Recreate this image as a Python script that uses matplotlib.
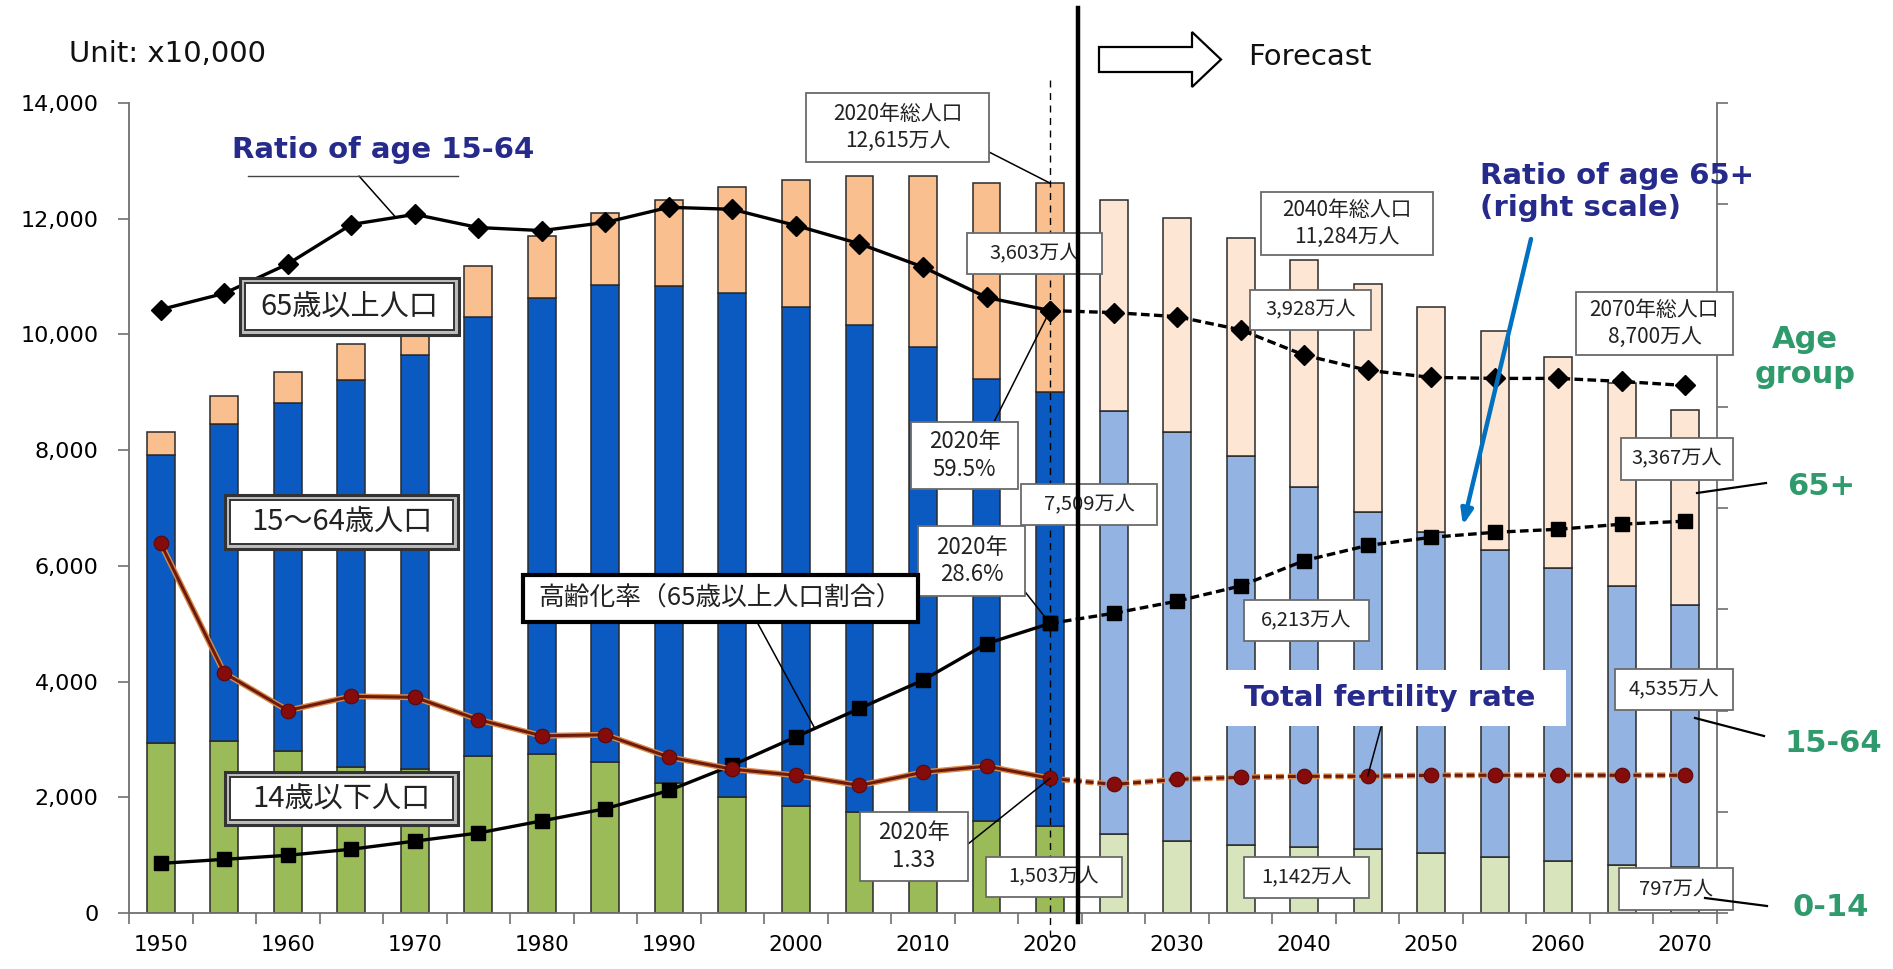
import numpy as np
import matplotlib.pyplot as plt
import matplotlib.patheffects as pe
from matplotlib.patches import Rectangle, Polygon
from matplotlib.lines import Line2D
from matplotlib import transforms

plt.rcParams['font.family'] = ['DejaVu Sans', 'Noto Sans CJK JP']
JP = ['Noto Sans CJK JP', 'DejaVu Sans']

# population (x10,000) by age group, 1950-2020 actual, 2025-2070 forecast
years = [1950, 1955, 1960, 1965, 1970, 1975, 1980, 1985, 1990, 1995, 2000, 2005,
         2010, 2015, 2020, 2025, 2030, 2035, 2040, 2045, 2050, 2055, 2060, 2065, 2070]
pop_0_14 = [2943, 2980, 2807, 2517, 2482, 2722, 2751, 2603, 2249, 2001, 1847, 1752,
            1680, 1595, 1503, 1363, 1240, 1169, 1142, 1103, 1041, 966, 893, 836, 797]
pop_15_64 = [4966, 5473, 6000, 6693, 7157, 7581, 7883, 8251, 8590, 8716, 8622, 8409,
             8103, 7629, 7509, 7310, 7076, 6722, 6213, 5832, 5540, 5307, 5078, 4809, 4535]
pop_65 = [411, 475, 535, 618, 733, 887, 1065, 1247, 1493, 1828, 2204, 2576,
          2948, 3387, 3603, 3653, 3696, 3773, 3928, 3945, 3888, 3778, 3644, 3513, 3367]
total = [8320, 8928, 9342, 9828, 10372, 11194, 11706, 12105, 12361, 12557, 12693, 12777,
         12806, 12709, 12615, 12326, 12012, 11664, 11284, 10880, 10469, 10051, 9615, 9159, 8700]
# ratios (%) on right scale, total fertility rate
ratio_15_64 = [59.6, 61.2, 64.1, 68.0, 69.0, 67.7, 67.4, 68.2, 69.7, 69.5, 67.9, 66.1,
               63.8, 60.8, 59.5, 59.3, 58.9, 57.6, 55.1, 53.6, 52.9, 52.8, 52.8, 52.5, 52.1]
ratio_65 = [4.9, 5.3, 5.7, 6.3, 7.1, 7.9, 9.1, 10.3, 12.1, 14.6, 17.4, 20.2,
            23.0, 26.6, 28.6, 29.6, 30.8, 32.3, 34.8, 36.3, 37.1, 37.6, 37.9, 38.4, 38.7]
tfr = [3.65, 2.37, 2.00, 2.14, 2.13, 1.91, 1.75, 1.76, 1.54, 1.42, 1.36, 1.26,
       1.39, 1.45, 1.33, 1.27, 1.32, 1.34, 1.35, 1.35, 1.36, 1.36, 1.36, 1.36, 1.36]
last_actual = 2020

W, H = 1893, 969
fig = plt.figure(figsize=(W / 100, H / 100), dpi=100)


def P(x, y):
    return (x / W, 1 - y / H)


ax = fig.add_axes([129 / W, 1 - 913 / H, (1717 - 129) / W, (913 - 103) / H])
x = np.arange(len(years))
k = years.index(last_actual)
actual = np.array(years) <= last_actual

c_old = ('#9BBB59', '#0B5AC2', '#F9BF8F')
c_new = ('#D8E4BC', '#93B4E2', '#FDE6D4')
bottom = np.zeros(len(years))
for j, vals in enumerate([pop_0_14, pop_15_64, pop_65]):
    cols = [c_old[j] if a else c_new[j] for a in actual]
    ax.bar(x, vals, bottom=bottom, width=0.44, color=cols, edgecolor='#2a2a2a', lw=1.1, zorder=2)
    bottom += np.array(vals)

ax.set_xlim(-0.5, len(years) - 0.5)
ax.set_ylim(0, 14000)
ax.set_yticks(range(0, 14001, 2000))
ax.set_yticklabels([f'{v:,}' for v in range(0, 14001, 2000)], fontsize=16)
ax.set_xticks(x[::2])
ax.set_xticklabels([str(y) for y in years[::2]], fontsize=15.5)
ax.set_xticks(np.arange(-0.5, len(years), 1), minor=True)
ax.tick_params(axis='x', which='major', length=0, pad=16)
ax.tick_params(axis='x', which='minor', length=8, width=1.2, color='#707070')
ax.tick_params(axis='y', length=8, width=1.2, color='#707070', pad=14)
for s in ['top', 'right']:
    ax.spines[s].set_visible(False)
for s in ['left', 'bottom']:
    ax.spines[s].set_color('#707070')
    ax.spines[s].set_linewidth(1.3)

ax2 = ax.twinx()
ax2.set_ylim(0, 80)
ax2.set_yticks(range(0, 81, 10))
ax2.set_yticklabels([])
ax2.tick_params(axis='y', length=8, width=1.2, color='#707070')
for s in ['top', 'left', 'bottom']:
    ax2.spines[s].set_visible(False)
ax2.spines['right'].set_color('#707070')
ax2.spines['right'].set_linewidth(1.3)

ax3 = ax.twinx()
ax3.set_ylim(0, 8)
ax3.axis('off')

dash = (0, (2.6, 1.3))
for axx, vals, mk, ms in [(ax2, ratio_15_64, 'D', 10), (ax2, ratio_65, 's', 10)]:
    axx.plot(x[:k + 1], vals[:k + 1], color='black', lw=2.4, marker=mk, ms=ms, zorder=4)
    axx.plot(x[k:], vals[k:], color='black', lw=2.4, ls=dash, marker=mk, ms=ms, zorder=4)

glow = [pe.Stroke(linewidth=4.2, foreground='#D98B4A'), pe.Normal()]
ax3.plot(x[:k + 1], tfr[:k + 1], color='#6E1A0C', lw=2.2, path_effects=glow, zorder=4)
ax3.plot(x[k:], tfr[k:], color='#6E1A0C', lw=2.2, ls=dash, path_effects=glow, zorder=4)
ax3.plot(x, tfr, ls='none', marker='o', ms=10.5, mfc='#860C0C', mec='#5a0808', mew=0.8, zorder=5)

# vertical markers for 2020 and the forecast boundary
bt = transforms.blended_transform_factory(ax.transData, fig.transFigure)
ax.add_line(Line2D([k, k], [1 - 937 / H, 1 - 78 / H], transform=bt, color='black',
                   lw=1, ls=(0, (5, 4)), clip_on=False, zorder=3))
fig.add_artist(Line2D([k + 0.44, k + 0.44], [1 - 922 / H, 1 - 8 / H], transform=bt,
                      color='black', lw=3.2, zorder=6))


def leader(axx, xy, px, lw=1.1, color='black'):
    axx.annotate('', xy=xy, xycoords='data', xytext=P(*px), textcoords='figure fraction',
                 arrowprops=dict(arrowstyle='-', lw=lw, color=color, shrinkA=0, shrinkB=0),
                 annotation_clip=False, zorder=5)


def box(x0, y0, x1, y1, text, size=14.5, lw=1.3, ec='#6a6a6a'):
    fig.add_artist(Rectangle(P(x0, y1), (x1 - x0) / W, (y1 - y0) / H, transform=fig.transFigure,
                             fc='white', ec=ec, lw=lw, zorder=4))
    fig.text(*P((x0 + x1) / 2, (y0 + y1) / 2), text, ha='center', va='center',
             fontsize=size, family=JP, linespacing=1.25, color='#222222', zorder=5)


def framed(x0, y0, x1, y1, text):
    fig.add_artist(Rectangle(P(x0, y1), (x1 - x0) / W, (y1 - y0) / H, transform=fig.transFigure,
                             fc='#bdbdbd', ec='#333333', lw=2.2, zorder=4))
    fig.add_artist(Rectangle(P(x0 + 5, y1 - 5), (x1 - x0 - 10) / W, (y1 - y0 - 10) / H,
                             transform=fig.transFigure, fc='white', ec='#333333', lw=1.4, zorder=4))
    fig.text(*P((x0 + x1) / 2, (y0 + y1) / 2), text, ha='center', va='center',
             fontsize=21, family=JP, color='#222222', zorder=5)


def man(v):
    return f'{v:,}万人'


i40, i70 = years.index(2040), years.index(2070)

# leaders first (drawn inside axes, under the boxes)
leader(ax, (k, total[k]), (989, 152))
leader(ax2, (k, ratio_15_64[k]), (994, 422))
leader(ax2, (k, ratio_65[k]), (1007, 569))
leader(ax3, (k, tfr[k]), (968, 844))
leader(ax2, (10.3, 18.2), (757, 622))
leader(ax2, (3.7, 68.7), (359, 176))
leader(ax3, (years.index(2045), tfr[years.index(2045)]), (1381, 727))

box(806, 93, 989, 162, f'{last_actual}年総人口\n{man(total[k])}', 15)
box(967, 233, 1102, 274, man(pop_65[k]))
box(911, 422, 1018, 489, f'{last_actual}年\n{ratio_15_64[k]}%', 16)
box(1021, 484, 1157, 525, man(pop_15_64[k]))
box(918, 526, 1025, 596, f'{last_actual}年\n{ratio_65[k]}%', 16)
box(860, 812, 968, 881, f'{last_actual}年\n{tfr[k]}', 16)
box(986, 857, 1122, 897, man(pop_0_14[k]))
box(1261, 192, 1433, 255, f'2040年総人口\n{man(total[i40])}', 15)
box(1250, 290, 1371, 330, man(pop_65[i40]))
box(1244, 600, 1369, 641, man(pop_15_64[i40]))
box(1244, 857, 1369, 898, man(pop_0_14[i40]))
box(1576, 292, 1733, 355, f'2070年総人口\n{man(total[i70])}', 15)
box(1621, 438, 1733, 480, man(pop_65[i70]))
box(1615, 669, 1733, 710, man(pop_15_64[i70]))
box(1619, 868, 1733, 910, man(pop_0_14[i70]))
box(523, 575, 918, 622, '高齢化率（65歳以上人口割合）', 18.5, lw=3, ec='black')

framed(240, 278, 459, 335, '65歳以上人口')
framed(225, 495, 458, 549, '15～64歳人口')
framed(225, 772, 458, 825, '14歳以下人口')

navy = '#262A8A'
green = '#2F9A6C'
fig.text(*P(69, 54), 'Unit: x10,000', fontsize=21, va='center', color='#111111')
fig.text(*P(1248, 57), 'Forecast', fontsize=21, va='center', color='#111111')
fig.add_artist(Polygon([P(1099, 47), P(1192, 47), P(1192, 32), P(1221, 59.5), P(1192, 87),
                        P(1192, 72), P(1099, 72)], closed=True, transform=fig.transFigure,
                       fc='white', ec='black', lw=1.6, zorder=4))

fig.text(*P(232, 150), 'Ratio of age 15-64', fontsize=21, fontweight='bold', color=navy, va='center')
fig.add_artist(Line2D([248 / W, 458 / W], [1 - 176 / H] * 2, color='#444444', lw=1, zorder=4))

fig.text(*P(1480, 192), 'Ratio of age 65+\n(right scale)', fontsize=21, fontweight='bold',
         color=navy, va='center', linespacing=1.2, zorder=7)
ax2.annotate('', xy=(20.5, 38.3), xycoords='data', xytext=P(1531, 239), textcoords='figure fraction',
             arrowprops=dict(arrowstyle='-|>,head_length=0.9,head_width=0.35', lw=3.2,
                             color='#0070C0', shrinkA=0, shrinkB=0), annotation_clip=False, zorder=7)

fig.add_artist(Rectangle(P(1226, 726), 340 / W, 56 / H, transform=fig.transFigure,
                         fc='white', ec='none', zorder=4))
fig.text(*P(1244, 698), 'Total fertility rate', fontsize=21, fontweight='bold', color=navy,
         va='center', zorder=5)

fig.text(*P(1805, 357), 'Age\ngroup', fontsize=22, fontweight='bold', color=green,
         ha='center', va='center', linespacing=1.3)
fig.text(*P(1787, 487), '65+', fontsize=22, fontweight='bold', color=green, va='center')
fig.text(*P(1785, 743), '15-64', fontsize=22, fontweight='bold', color=green, va='center')
fig.text(*P(1793, 908), '0-14', fontsize=22, fontweight='bold', color=green, va='center')
for a, b in [((1697, 493), (1766, 483)), ((1695, 718), (1764, 736)), ((1705, 898), (1767, 906))]:
    fig.add_artist(Line2D([a[0] / W, b[0] / W], [1 - a[1] / H, 1 - b[1] / H], color='black',
                          lw=1.6, zorder=6))

fig.savefig('out.png', dpi=100)
